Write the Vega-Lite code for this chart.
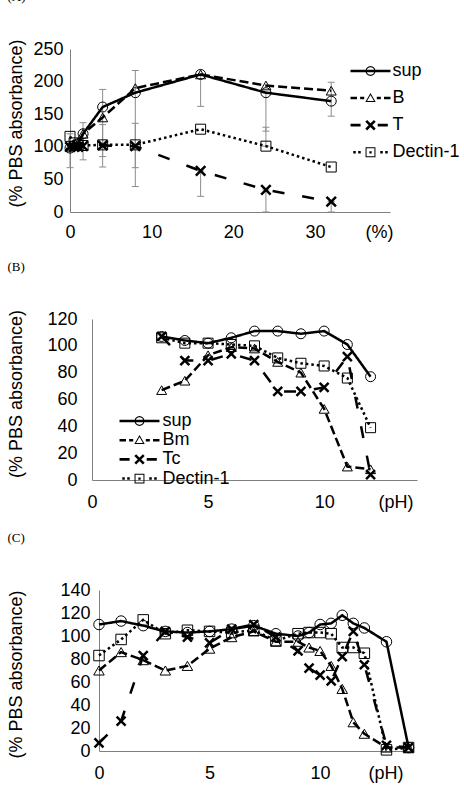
{
  "$schema": "https://vega.github.io/schema/vega-lite/v6.json",
  "padding": {"left": 7, "top": -10, "right": 0, "bottom": 0},
  "spacing": 20,
  "config": {
    "view": {"stroke": null},
    "axis": {"grid": false, "ticks": false, "tickSize": 0, "domainColor": "#7f7f7f", "domainWidth": 1, "labelFont": "Liberation Sans", "labelFontSize": 18, "labelColor": "#000", "titleFont": "Liberation Sans", "titleFontSize": 18, "titleFontWeight": "normal", "titleColor": "#000", "labelFlush": false, "labelOverlap": false},
    "title": {"font": "Liberation Serif", "fontSize": 13, "fontWeight": "normal", "color": "#000"},
    "legend": {"labelFont": "Liberation Sans", "labelFontSize": 18, "labelColor": "#000", "padding": 0}
  },
  "datasets": {
    "A": [
      {"series": "sup", "x": 0, "y": 98}, {"series": "sup", "x": 0.5, "y": 102}, {"series": "sup", "x": 1, "y": 105}, {"series": "sup", "x": 1.6, "y": 120}, {"series": "sup", "x": 4, "y": 161}, {"series": "sup", "x": 8, "y": 183}, {"series": "sup", "x": 16, "y": 211}, {"series": "sup", "x": 24, "y": 183}, {"series": "sup", "x": 32, "y": 170},
      {"series": "B", "x": 0, "y": 100}, {"series": "B", "x": 0.5, "y": 103}, {"series": "B", "x": 1, "y": 106}, {"series": "B", "x": 1.6, "y": 120}, {"series": "B", "x": 4, "y": 145}, {"series": "B", "x": 8, "y": 190}, {"series": "B", "x": 16, "y": 211}, {"series": "B", "x": 24, "y": 194}, {"series": "B", "x": 32, "y": 186},
      {"series": "T", "x": 0, "y": 100}, {"series": "T", "x": 0.5, "y": 100}, {"series": "T", "x": 1, "y": 100}, {"series": "T", "x": 1.6, "y": 101}, {"series": "T", "x": 4, "y": 102}, {"series": "T", "x": 8, "y": 101}, {"series": "T", "x": 16, "y": 63}, {"series": "T", "x": 24, "y": 34}, {"series": "T", "x": 32, "y": 16},
      {"series": "Dectin-1", "x": 0, "y": 116}, {"series": "Dectin-1", "x": 0.5, "y": 106}, {"series": "Dectin-1", "x": 1, "y": 103}, {"series": "Dectin-1", "x": 1.6, "y": 102}, {"series": "Dectin-1", "x": 4, "y": 103}, {"series": "Dectin-1", "x": 8, "y": 103}, {"series": "Dectin-1", "x": 16, "y": 127}, {"series": "Dectin-1", "x": 24, "y": 101}, {"series": "Dectin-1", "x": 32, "y": 69}
    ],
    "errA": [
      {"x": 0, "y": 68, "y2": 120}, {"x": 1.6, "y": 80, "y2": 137}, {"x": 4, "y": 69, "y2": 188}, {"x": 4, "y": 85, "y2": 134},
      {"x": 8, "y": 39, "y2": 217}, {"x": 8, "y": 68, "y2": 136}, {"x": 16, "y": 162, "y2": 210}, {"x": 16, "y": 24, "y2": 63},
      {"x": 24, "y": 124, "y2": 183}, {"x": 24, "y": 0, "y2": 34}, {"x": 24, "y": 101, "y2": 130}, {"x": 32, "y": 147, "y2": 199}, {"x": 32, "y": 0, "y2": 16}
    ],
    "B": [
      {"series": "sup", "x": 3, "y": 107}, {"series": "sup", "x": 4, "y": 104}, {"series": "sup", "x": 5, "y": 102}, {"series": "sup", "x": 6, "y": 106}, {"series": "sup", "x": 7, "y": 111}, {"series": "sup", "x": 8, "y": 111}, {"series": "sup", "x": 9, "y": 109}, {"series": "sup", "x": 10, "y": 111}, {"series": "sup", "x": 11, "y": 101}, {"series": "sup", "x": 12, "y": 77},
      {"series": "Bm", "x": 3, "y": 67}, {"series": "Bm", "x": 4, "y": 74}, {"series": "Bm", "x": 5, "y": 93}, {"series": "Bm", "x": 6, "y": 99}, {"series": "Bm", "x": 7, "y": 98}, {"series": "Bm", "x": 8, "y": 88}, {"series": "Bm", "x": 9, "y": 80}, {"series": "Bm", "x": 10, "y": 53}, {"series": "Bm", "x": 11, "y": 10}, {"series": "Bm", "x": 12, "y": 8},
      {"series": "Tc", "x": 3, "y": 107}, {"series": "Tc", "x": 4, "y": 89}, {"series": "Tc", "x": 5, "y": 89}, {"series": "Tc", "x": 6, "y": 94}, {"series": "Tc", "x": 7, "y": 89}, {"series": "Tc", "x": 8, "y": 66}, {"series": "Tc", "x": 9, "y": 66}, {"series": "Tc", "x": 10, "y": 69}, {"series": "Tc", "x": 11, "y": 92}, {"series": "Tc", "x": 12, "y": 4},
      {"series": "Dectin-1", "x": 3, "y": 106}, {"series": "Dectin-1", "x": 4, "y": 102}, {"series": "Dectin-1", "x": 5, "y": 102}, {"series": "Dectin-1", "x": 6, "y": 101}, {"series": "Dectin-1", "x": 7, "y": 100}, {"series": "Dectin-1", "x": 8, "y": 91}, {"series": "Dectin-1", "x": 9, "y": 87}, {"series": "Dectin-1", "x": 10, "y": 85}, {"series": "Dectin-1", "x": 11, "y": 76}, {"series": "Dectin-1", "x": 12, "y": 39}
    ],
    "C": [
      {"series": "sup", "x": 0, "y": 110}, {"series": "sup", "x": 1, "y": 113}, {"series": "sup", "x": 2, "y": 109}, {"series": "sup", "x": 3, "y": 104}, {"series": "sup", "x": 4, "y": 103}, {"series": "sup", "x": 5, "y": 104}, {"series": "sup", "x": 6, "y": 106}, {"series": "sup", "x": 7, "y": 109}, {"series": "sup", "x": 8, "y": 102}, {"series": "sup", "x": 9, "y": 100}, {"series": "sup", "x": 9.5, "y": 103}, {"series": "sup", "x": 10, "y": 110}, {"series": "sup", "x": 10.5, "y": 111}, {"series": "sup", "x": 11, "y": 118}, {"series": "sup", "x": 11.5, "y": 111}, {"series": "sup", "x": 12, "y": 107}, {"series": "sup", "x": 13, "y": 95}, {"series": "sup", "x": 14, "y": 3},
      {"series": "Bm", "x": 0, "y": 70}, {"series": "Bm", "x": 1, "y": 86}, {"series": "Bm", "x": 2, "y": 79}, {"series": "Bm", "x": 3, "y": 70}, {"series": "Bm", "x": 4, "y": 74}, {"series": "Bm", "x": 5, "y": 89}, {"series": "Bm", "x": 6, "y": 99}, {"series": "Bm", "x": 7, "y": 104}, {"series": "Bm", "x": 8, "y": 95}, {"series": "Bm", "x": 9, "y": 95}, {"series": "Bm", "x": 9.5, "y": 90}, {"series": "Bm", "x": 10, "y": 87}, {"series": "Bm", "x": 10.5, "y": 74}, {"series": "Bm", "x": 11, "y": 54}, {"series": "Bm", "x": 11.5, "y": 25}, {"series": "Bm", "x": 12, "y": 15}, {"series": "Bm", "x": 13, "y": 3}, {"series": "Bm", "x": 14, "y": 3},
      {"series": "Tc", "x": 0, "y": 7}, {"series": "Tc", "x": 1, "y": 26}, {"series": "Tc", "x": 2, "y": 83}, {"series": "Tc", "x": 3, "y": 104}, {"series": "Tc", "x": 4, "y": 99}, {"series": "Tc", "x": 5, "y": 94}, {"series": "Tc", "x": 6, "y": 106}, {"series": "Tc", "x": 7, "y": 110}, {"series": "Tc", "x": 8, "y": 99}, {"series": "Tc", "x": 9, "y": 87}, {"series": "Tc", "x": 9.5, "y": 72}, {"series": "Tc", "x": 10, "y": 66}, {"series": "Tc", "x": 10.5, "y": 61}, {"series": "Tc", "x": 11, "y": 82}, {"series": "Tc", "x": 11.5, "y": 104}, {"series": "Tc", "x": 12, "y": 75}, {"series": "Tc", "x": 13, "y": 5}, {"series": "Tc", "x": 14, "y": 3},
      {"series": "Dectin-1", "x": 0, "y": 83}, {"series": "Dectin-1", "x": 1, "y": 97}, {"series": "Dectin-1", "x": 2, "y": 114}, {"series": "Dectin-1", "x": 3, "y": 102}, {"series": "Dectin-1", "x": 4, "y": 105}, {"series": "Dectin-1", "x": 5, "y": 104}, {"series": "Dectin-1", "x": 6, "y": 103}, {"series": "Dectin-1", "x": 7, "y": 105}, {"series": "Dectin-1", "x": 8, "y": 96}, {"series": "Dectin-1", "x": 9, "y": 102}, {"series": "Dectin-1", "x": 9.5, "y": 103}, {"series": "Dectin-1", "x": 10, "y": 103}, {"series": "Dectin-1", "x": 10.5, "y": 102}, {"series": "Dectin-1", "x": 11, "y": 90}, {"series": "Dectin-1", "x": 11.5, "y": 90}, {"series": "Dectin-1", "x": 12, "y": 85}, {"series": "Dectin-1", "x": 13, "y": 1}, {"series": "Dectin-1", "x": 14, "y": 3}
    ]
  },
  "vconcat": [
    {
      "width": 320, "height": 163,
      "title": {"text": "(A)", "anchor": "start", "frame": "bounds", "offset": 35},
      "encoding": {
        "x": {"field": "x", "type": "quantitative", "scale": {"domain": [0, 39.2], "nice": false}, "axis": {"values": [0, 10, 20, 30], "labelPadding": 11, "title": "(%)", "titleX": 323, "titleY": 11, "titleAlign": "right", "titleAnchor": "end", "titleBaseline": "top"}},
        "y": {"field": "y", "type": "quantitative", "scale": {"domain": [0, 250], "nice": false}, "axis": {"values": [0, 50, 100, 150, 200, 250], "labelPadding": 7, "titlePadding": 7.5, "title": "(% PBS absorbance)", "titleY": 74}}
      },
      "layer": [
        {"data": {"name": "errA"}, "mark": {"type": "rule", "color": "#8c8c8c", "strokeWidth": 1}, "encoding": {"y2": {"field": "y2"}}},
        {"data": {"name": "errA"}, "mark": {"type": "tick", "orient": "horizontal", "color": "#8c8c8c", "size": 7, "thickness": 1, "opacity": 1}},
        {"data": {"name": "errA"}, "mark": {"type": "tick", "orient": "horizontal", "color": "#8c8c8c", "size": 7, "thickness": 1, "opacity": 1},
         "encoding": {"y": {"field": "y2", "type": "quantitative", "scale": {"domain": [0, 250], "nice": false}, "axis": {"values": [0, 50, 100, 150, 200, 250], "labelPadding": 7, "titlePadding": 7.5, "title": "(% PBS absorbance)", "titleY": 74}}}},
        {"data": {"name": "A"}, "mark": {"type": "line", "color": "#000", "strokeWidth": 2.5},
         "encoding": {"strokeDash": {"field": "series", "type": "nominal", "scale": {"domain": ["sup", "B", "T", "Dectin-1"], "range": [[1, 0], [9, 4], [12, 18], [2.5, 3]]}, "legend": null}}},
        {"data": {"name": "A"}, "transform": [{"filter": "datum.series != 'T'"}], "mark": {"type": "point", "filled": false, "color": "#000", "strokeWidth": 1, "size": 100, "opacity": 1},
         "encoding": {"shape": {"field": "series", "type": "nominal", "scale": {"domain": ["sup", "B", "Dectin-1"], "range": ["circle", "triangle-up", "square"]}, "legend": null}}},
        {"data": {"name": "A"}, "transform": [{"filter": "datum.series == 'T'"}], "mark": {"type": "point", "shape": "M-1,-1L1,1M-1,1L1,-1", "filled": false, "color": "#000", "strokeWidth": 2.5, "size": 90, "opacity": 1}},
        {"data": {"name": "A"}, "mark": {"type": "point", "filled": true, "color": "#000", "opacity": 0, "clip": true},
         "encoding": {"shape": {"field": "series", "type": "nominal",
           "scale": {"domain": ["sup", "B", "T", "Dectin-1"], "range": [
             "M-4.44,-0.28L4.44,-0.28L4.44,0.28L-4.44,0.28Z M1.1,0L1.016,0.421L0.778,0.778L0.421,1.016L0,1.1L-0.421,1.016L-0.778,0.778L-1.016,0.421L-1.1,0L-1.016,-0.421L-0.778,-0.778L-0.421,-1.016L0,-1.1L0.421,-1.016L0.778,-0.778L1.016,-0.421Z M0.86,0L0.795,-0.329L0.608,-0.608L0.329,-0.795L0,-0.86L-0.329,-0.795L-0.608,-0.608L-0.795,-0.329L-0.86,0L-0.795,0.329L-0.608,0.608L-0.329,0.795L0,0.86L0.329,0.795L0.608,0.608L0.795,0.329Z",
             "M-4.44,-0.28L-3,-0.28L-3,0.28L-4.44,0.28Z M-2.3,-0.28L-1.4,-0.28L-1.4,0.28L-2.3,0.28Z M1.4,-0.28L2.3,-0.28L2.3,0.28L1.4,0.28Z M3,-0.28L4.44,-0.28L4.44,0.28L3,0.28Z M0,-1.15L1.15,0.85L-1.15,0.85Z M0,-0.7L-0.77,0.63L0.77,0.63Z",
             "M-4.44,-0.3L-2.2,-0.3L-2.2,0.3L-4.44,0.3Z M1.6,-0.3L3.85,-0.3L3.85,0.3L1.6,0.3Z M-0.75,-1.15L1.15,0.75L0.75,1.15L-1.15,-0.75Z M-1.15,0.75L0.75,-1.15L1.15,-0.75L-0.75,1.15Z",
             "M-3.83,-0.28L-3.27,-0.28L-3.27,0.28L-3.83,0.28Z M-2.73,-0.28L-2.17,-0.28L-2.17,0.28L-2.73,0.28Z M2.17,-0.28L2.73,-0.28L2.73,0.28L2.17,0.28Z M3.27,-0.28L3.83,-0.28L3.83,0.28L3.27,0.28Z M-1.1,-1.1L1.1,-1.1L1.1,1.1L-1.1,1.1Z M-0.88,-0.88L-0.88,0.88L0.88,0.88L0.88,-0.88Z M-0.25,-0.25L0.25,-0.25L0.25,0.25L-0.25,0.25Z"
           ]},
           "legend": {"title": null, "orient": "none", "legendX": 276, "legendY": 13, "symbolSize": 81, "symbolStrokeWidth": 0, "symbolOpacity": 1, "symbolOffset": 15.5, "labelOffset": 13, "rowPadding": 9.1}}}}
      ],
      "resolve": {"scale": {"shape": "independent"}, "legend": {"shape": "independent"}}
    },
    {
      "width": 347, "height": 161,
      "title": {"text": "(B)", "anchor": "start", "frame": "bounds", "offset": 35},
      "encoding": {
        "x": {"field": "x", "type": "quantitative", "scale": {"domain": [0, 14], "nice": false, "range": [22, 347]}, "axis": {"values": [0, 5, 10], "labelPadding": 13.5, "title": "(pH)", "titleX": 343, "titleY": 13.5, "titleAlign": "right", "titleAnchor": "end", "titleBaseline": "top"}},
        "y": {"field": "y", "type": "quantitative", "scale": {"domain": [0, 120], "nice": false}, "axis": {"offset": -22, "values": [0, 20, 40, 60, 80, 100, 120], "labelPadding": 15, "titlePadding": 21.5, "title": "(% PBS absorbance)", "titleY": 74.5}}
      },
      "layer": [
        {"data": {"name": "B"}, "mark": {"type": "line", "color": "#000", "strokeWidth": 2.5},
         "encoding": {"strokeDash": {"field": "series", "type": "nominal", "scale": {"domain": ["sup", "Bm", "Tc", "Dectin-1"], "range": [[1, 0], [9, 4], [12, 18], [2.5, 3]]}, "legend": null}}},
        {"data": {"name": "B"}, "transform": [{"filter": "datum.series != 'Tc'"}], "mark": {"type": "point", "filled": false, "color": "#000", "strokeWidth": 1, "size": 100, "opacity": 1},
         "encoding": {"shape": {"field": "series", "type": "nominal", "scale": {"domain": ["sup", "Bm", "Dectin-1"], "range": ["circle", "triangle-up", "square"]}, "legend": null}}},
        {"data": {"name": "B"}, "transform": [{"filter": "datum.series == 'Tc'"}], "mark": {"type": "point", "shape": "M-1,-1L1,1M-1,1L1,-1", "filled": false, "color": "#000", "strokeWidth": 2.5, "size": 80, "opacity": 1}},
        {"data": {"name": "B"}, "mark": {"type": "point", "filled": true, "color": "#000", "opacity": 0, "clip": true},
         "encoding": {"shape": {"field": "series", "type": "nominal",
           "scale": {"domain": ["sup", "Bm", "Tc", "Dectin-1"], "range": [
             "M-4.44,-0.28L4.44,-0.28L4.44,0.28L-4.44,0.28Z M1.1,0L1.016,0.421L0.778,0.778L0.421,1.016L0,1.1L-0.421,1.016L-0.778,0.778L-1.016,0.421L-1.1,0L-1.016,-0.421L-0.778,-0.778L-0.421,-1.016L0,-1.1L0.421,-1.016L0.778,-0.778L1.016,-0.421Z M0.86,0L0.795,-0.329L0.608,-0.608L0.329,-0.795L0,-0.86L-0.329,-0.795L-0.608,-0.608L-0.795,-0.329L-0.86,0L-0.795,0.329L-0.608,0.608L-0.329,0.795L0,0.86L0.329,0.795L0.608,0.608L0.795,0.329Z",
             "M-4.44,-0.28L-3,-0.28L-3,0.28L-4.44,0.28Z M-2.3,-0.28L-1.4,-0.28L-1.4,0.28L-2.3,0.28Z M1.4,-0.28L2.3,-0.28L2.3,0.28L1.4,0.28Z M3,-0.28L4.44,-0.28L4.44,0.28L3,0.28Z M0,-1.15L1.15,0.85L-1.15,0.85Z M0,-0.7L-0.77,0.63L0.77,0.63Z",
             "M-4.44,-0.3L-2.2,-0.3L-2.2,0.3L-4.44,0.3Z M1.6,-0.3L3.85,-0.3L3.85,0.3L1.6,0.3Z M-0.75,-1.15L1.15,0.75L0.75,1.15L-1.15,-0.75Z M-1.15,0.75L0.75,-1.15L1.15,-0.75L-0.75,1.15Z",
             "M-3.83,-0.28L-3.27,-0.28L-3.27,0.28L-3.83,0.28Z M-2.73,-0.28L-2.17,-0.28L-2.17,0.28L-2.73,0.28Z M2.17,-0.28L2.73,-0.28L2.73,0.28L2.17,0.28Z M3.27,-0.28L3.83,-0.28L3.83,0.28L3.27,0.28Z M-1.1,-1.1L1.1,-1.1L1.1,1.1L-1.1,1.1Z M-0.88,-0.88L-0.88,0.88L0.88,0.88L0.88,-0.88Z M-0.25,-0.25L0.25,-0.25L0.25,0.25L-0.25,0.25Z"
           ]},
           "legend": {"title": null, "orient": "none", "legendX": 45, "legendY": 93, "symbolSize": 81, "symbolStrokeWidth": 0, "symbolOpacity": 1, "symbolOffset": 15.5, "labelOffset": 14, "rowPadding": 1.2}}}}
      ],
      "resolve": {"scale": {"shape": "independent"}, "legend": {"shape": "independent"}}
    },
    {
      "width": 343, "height": 161,
      "title": {"text": "(C)", "anchor": "start", "frame": "bounds", "offset": 36},
      "encoding": {
        "x": {"field": "x", "type": "quantitative", "scale": {"domain": [0, 14.2], "nice": false, "range": [29, 343]}, "axis": {"values": [0, 5, 10], "labelPadding": 13.5, "title": "(pH)", "titleX": 333, "titleY": 13.5, "titleAlign": "right", "titleAnchor": "end", "titleBaseline": "top"}},
        "y": {"field": "y", "type": "quantitative", "scale": {"domain": [0, 140], "nice": false}, "axis": {"offset": -29, "values": [0, 20, 40, 60, 80, 100, 120, 140], "labelPadding": 9, "titlePadding": 34.5, "title": "(% PBS absorbance)", "titleY": 84}}
      },
      "layer": [
        {"data": {"name": "C"}, "mark": {"type": "line", "color": "#000", "strokeWidth": 2.5},
         "encoding": {"strokeDash": {"field": "series", "type": "nominal", "scale": {"domain": ["sup", "Bm", "Tc", "Dectin-1"], "range": [[1, 0], [9, 4], [12, 18], [2.5, 3]]}, "legend": null}}},
        {"data": {"name": "C"}, "transform": [{"filter": "datum.series != 'Tc'"}], "mark": {"type": "point", "filled": false, "color": "#000", "strokeWidth": 1, "size": 110, "opacity": 1},
         "encoding": {"shape": {"field": "series", "type": "nominal", "scale": {"domain": ["sup", "Bm", "Dectin-1"], "range": ["circle", "triangle-up", "square"]}, "legend": null}}},
        {"data": {"name": "C"}, "transform": [{"filter": "datum.series == 'Tc'"}], "mark": {"type": "point", "shape": "M-1,-1L1,1M-1,1L1,-1", "filled": false, "color": "#000", "strokeWidth": 2.5, "size": 80, "opacity": 1}}
      ]
    }
  ],
  "resolve": {"scale": {"shape": "independent", "strokeDash": "independent"}, "legend": {"shape": "independent", "strokeDash": "independent"}}
}
